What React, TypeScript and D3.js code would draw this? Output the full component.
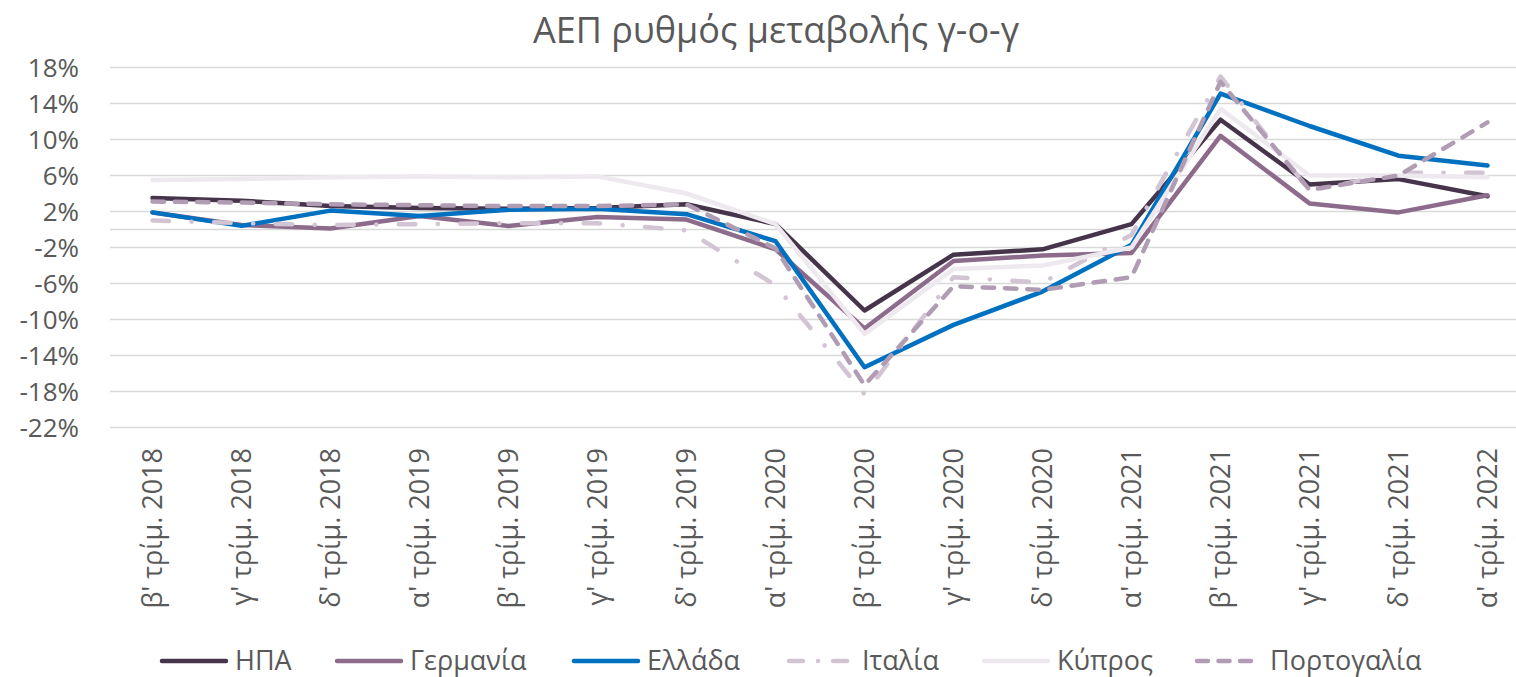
import { useMemo } from "react";
import * as d3 from "d3";

// quarters on the category axis
const categories = [
  "β' τρίμ. 2018", "γ' τρίμ. 2018", "δ' τρίμ. 2018",
  "α' τρίμ. 2019", "β' τρίμ. 2019", "γ' τρίμ. 2019", "δ' τρίμ. 2019",
  "α' τρίμ. 2020", "β' τρίμ. 2020", "γ' τρίμ. 2020", "δ' τρίμ. 2020",
  "α' τρίμ. 2021", "β' τρίμ. 2021", "γ' τρίμ. 2021", "δ' τρίμ. 2021",
  "α' τρίμ. 2022",
];

// y-o-y GDP change, %
const usa = [3.5, 3.2, 2.6, 2.4, 2.3, 2.4, 2.8, 0.6, -9.0, -2.8, -2.2, 0.6, 12.2, 5.0, 5.6, 3.7];
const germany = [1.9, 0.5, 0.1, 1.5, 0.4, 1.4, 1.1, -2.2, -11.0, -3.5, -2.9, -2.6, 10.4, 2.9, 1.9, 3.8];
const greece = [1.9, 0.4, 2.1, 1.5, 2.2, 2.3, 1.7, -1.3, -15.3, -10.6, -6.9, -1.7, 15.1, 11.5, 8.2, 7.1];
const italy = [1.0, 0.7, 0.5, 0.6, 0.7, 0.7, -0.1, -6.2, -18.3, -5.3, -5.9, -0.6, 17.0, 4.3, 6.3, 6.3];
const cyprus = [5.5, 5.6, 5.8, 5.9, 5.8, 5.9, 4.0, 0.6, -11.6, -4.4, -4.0, -2.0, 13.4, 6.0, 6.0, 5.8];
const portugal = [3.1, 3.0, 2.8, 2.7, 2.6, 2.6, 2.8, -2.1, -17.3, -6.3, -6.7, -5.3, 16.4, 4.4, 6.0, 11.9];

const yTicks = [18, 14, 10, 6, 2, -2, -6, -10, -14, -18, -22];

const series = [
  { name: "ΗΠΑ", values: usa, color: "#45344a", dash: null },
  { name: "Γερμανία", values: germany, color: "#8d6b8b", dash: null },
  { name: "Ελλάδα", values: greece, color: "#0070c0", dash: null },
  { name: "Ιταλία", values: italy, color: "#d3c4d3", dash: "16.5 22.5 0.1 22.5" },
  { name: "Κύπρος", values: cyprus, color: "#eee8ef", dash: null },
  { name: "Πορτογαλία", values: portugal, color: "#b19db3", dash: "11.5 10.8" },
];

const W = 1516;
const H = 677;
const left = 108;
const right = 1532;
const top = 67.5;
const bottom = 427.5;
const font = "'Open Sans', sans-serif";
const textColor = "#595959";

// legend sample start x for each entry
const legendX = [160, 335, 572, 787, 982, 1195];

export default function App() {
  const x = useMemo(
    () => d3.scaleBand<string>().domain(categories).range([left, right]),
    []
  );
  const y = useMemo(() => d3.scaleLinear().domain([-22, 18]).range([bottom, top]), []);

  const line = d3
    .line<number>()
    .x((_, i) => (x(categories[i]) ?? 0) + x.bandwidth() / 2)
    .y((d) => y(d));

  return (
    <svg width={W} height={H} style={{ display: "block", position: "absolute", left: 0, top: 0 }}>
      <rect width={W} height={H} fill="#fff" />
      <text x={776} y={43} textAnchor="middle" fontFamily={font} fontSize={36} fill={textColor}>
        ΑΕΠ ρυθμός μεταβολής γ-ο-γ
      </text>

      {yTicks.map((t) => (
        <g key={t}>
          <line x1={left + 2} x2={right - 2} y1={y(t)} y2={y(t)} stroke="#d9d9d9" strokeWidth={1.5} />
          <text
            x={79}
            y={y(t)}
            dy="0.35em"
            textAnchor="end"
            fontFamily={font}
            fontSize={26}
            fill={textColor}
          >
            {`${t}%`}
          </text>
        </g>
      ))}
      <line x1={left + 2} x2={right - 2} y1={y(0)} y2={y(0)} stroke="#d9d9d9" strokeWidth={1.5} />

      {categories.map((c) => {
        const cx = (x(c) ?? 0) + x.bandwidth() / 2;
        return (
          <text
            key={c}
            transform={`translate(${cx},448) rotate(-90)`}
            dy="0.35em"
            textAnchor="end"
            fontFamily={font}
            fontSize={27}
            fill={textColor}
          >
            {c}
          </text>
        );
      })}

      {series.map((s) => (
        <path
          key={s.name}
          d={line(s.values) ?? ""}
          fill="none"
          stroke={s.color}
          strokeWidth={4.5}
          strokeLinejoin="round"
          strokeLinecap="round"
          strokeDasharray={s.dash ?? undefined}
        />
      ))}

      {series.map((s, i) => (
        <g key={s.name} transform={`translate(${legendX[i]},661)`}>
          <line
            x1={2}
            x2={66}
            y1={0}
            y2={0}
            stroke={s.color}
            strokeWidth={4.5}
            strokeLinecap="round"
            strokeDasharray={s.dash ? (s.dash.startsWith("16") ? "14 15 0.1 15" : "11 10.5") : undefined}
          />
          <text x={75} y={0} dy="0.35em" fontFamily={font} fontSize={27} fill={textColor}>
            {s.name}
          </text>
        </g>
      ))}
    </svg>
  );
}
